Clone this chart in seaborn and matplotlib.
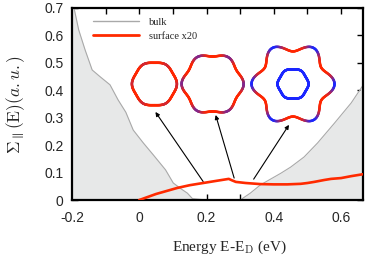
import numpy as np
import pandas as pd
import seaborn as sns
import matplotlib.pyplot as plt
from matplotlib.collections import LineCollection
from matplotlib.lines import Line2D
from matplotlib.ticker import MultipleLocator

# Bulk spectral function (grey, filled)
bulk_E = [-0.2, -0.194, -0.18, -0.161, -0.14, -0.116, -0.087, -0.063, -0.04, -0.018,
          0.012, 0.042, 0.078, 0.101, 0.125, 0.143, 0.158, 0.2, 0.25, 0.3, 0.33, 0.36,
          0.42, 0.45, 0.49, 0.53, 0.58, 0.63, 0.666]
bulk_S = [0.74, 0.70, 0.62, 0.547, 0.474, 0.449, 0.42, 0.365, 0.32, 0.255,
          0.208, 0.164, 0.11, 0.062, 0.04, 0.025, 0.005, 0.0, 0.0, 0.0, 0.025, 0.055,
          0.097, 0.12, 0.157, 0.208, 0.28, 0.354, 0.42]

# Surface spectral function x20 (red)
surf_E = [0.0, 0.05, 0.113, 0.15, 0.19, 0.23, 0.266, 0.275, 0.287, 0.316, 0.36, 0.4,
          0.44, 0.48, 0.5, 0.52, 0.55, 0.57, 0.6, 0.63, 0.665]
surf_S = [0.0, 0.022, 0.044, 0.054, 0.062, 0.07, 0.077, 0.072, 0.066, 0.062, 0.058, 0.057,
          0.057, 0.059, 0.062, 0.066, 0.073, 0.077, 0.08, 0.087, 0.094]

# Constant-energy contours (insets): centre (E, S), warping, spin tint
cont_E = [0.045, 0.218, 0.457]
cont_S = [0.423, 0.423, 0.423]
cont_warp = [0.03, 0.06, 0.12]
cont_tint = [0.2, 0.55, 1.0]
cont_radius_px = [22.5, 31, 41.5]
inner_radius_px = 15.5
inner_warp = 0.035

# Arrows: from curve (tail) to contour (head)
arrow_tail = [(0.19, 0.067), (0.282, 0.08), (0.34, 0.076)]
arrow_head = [(0.048, 0.321), (0.227, 0.31), (0.445, 0.274)]

sns.set_theme(style="ticks")
plt.rcParams["font.family"] = ["Liberation Sans", "DejaVu Sans"]
plt.rcParams["mathtext.fontset"] = "cm"
plt.rcParams["axes.unicode_minus"] = False

fig = plt.figure(figsize=(3.74, 2.64), dpi=100)
ax = fig.add_axes([0.1925, 0.2424, 0.7781, 0.7273])

bulk_col = "#a9a9a9"
red = "#ff2a00"
ax.fill_between(bulk_E, bulk_S, 0, color="#e7e8e8", lw=0, zorder=1)
sns.lineplot(x=bulk_E, y=bulk_S, ax=ax, color=bulk_col, lw=0.8, sort=False, zorder=2)
sns.lineplot(x=surf_E, y=surf_S, ax=ax, color=red, lw=1.9, sort=False, zorder=4)

ax.set_xlim(-0.2, 0.665)
ax.set_ylim(0, 0.7)
ax.xaxis.set_minor_locator(MultipleLocator(0.1))
ax.set_xticks([-0.2, 0, 0.2, 0.4, 0.6])
ax.set_xticklabels(["-0.2", "0", "0.2", "0.4", "0.6"])
ax.set_yticks([0, 0.1, 0.2, 0.3, 0.4, 0.5, 0.6, 0.7])
ax.set_yticklabels(["0", "0.1", "0.2", "0.3", "0.4", "0.5", "0.6", "0.7"])
ax.tick_params(which="both", direction="in", top=True, right=True, length=4,
               width=1, labelsize=10, color="black")
ax.tick_params(axis="x", pad=8)
ax.tick_params(axis="y", pad=6)
for sp in ax.spines.values():
    sp.set_linewidth(1.6)
    sp.set_color("black")

ax.set_xlabel(r"Energy E-E$_\mathrm{D}$ (eV)", family="Liberation Serif", fontsize=11)
ax.xaxis.set_label_coords(0.54, -0.2)
ax.set_ylabel(r"$\Sigma_{\parallel}(\mathrm{E})(a.u.)$", fontsize=12.5)
ax.yaxis.set_label_coords(-0.155, 0.5)

handles = [Line2D([], [], color=bulk_col, lw=1.0), Line2D([], [], color=red, lw=2.0)]
ax.legend(handles, ["bulk", "surface x20"], loc="upper left", bbox_to_anchor=(0.045, 0.995),
          frameon=False, prop={"family": "Liberation Serif", "size": 7.5},
          handlelength=4.4, handletextpad=0.9, labelspacing=0.45, borderpad=0.3)

# arrows
for (tx, ty), (hx, hy) in zip(arrow_tail, arrow_head):
    ax.annotate("", xy=(hx, hy), xytext=(tx, ty),
                arrowprops=dict(arrowstyle="-|>", color="black", lw=0.8,
                                mutation_scale=6, shrinkA=0, shrinkB=0), zorder=3)

# constant-energy contours as inset axes
px_x = 0.7781 * 374 / 0.865
px_y = 0.7273 * 264 / 0.7
theta = np.linspace(0, 2 * np.pi, 361)
c_red = np.array([1.0, 0.15, 0.0])
c_blue = np.array([0.1, 0.15, 1.0])


def draw_contour(inax, warp, tint, blue_only=False):
    r = (1 + warp * np.cos(6 * theta)) / (1 + warp)
    x, y = r * np.cos(theta), r * np.sin(theta)
    pts = np.column_stack([x, y]).reshape(-1, 1, 2)
    segs = np.concatenate([pts[:-1], pts[1:]], axis=1)
    if blue_only:
        cols = np.tile(c_blue, (len(segs), 1))
    else:
        tm = 0.5 * (theta[:-1] + theta[1:])
        t = tint * ((1 + np.cos(6 * tm)) / 2) ** 2.5
        cols = (1 - t)[:, None] * c_red + t[:, None] * c_blue
    inax.add_collection(LineCollection(segs, colors=cols, lw=1.8, capstyle="round"))


for e, s, w, tint, rp in zip(cont_E, cont_S, cont_warp, cont_tint, cont_radius_px):
    half = 1.1
    wd = 2 * half * rp / px_x
    ht = 2 * half * rp / px_y
    inax = ax.inset_axes([e - wd / 2, s - ht / 2, wd, ht], transform=ax.transData, zorder=5)
    inax.set_xlim(-half, half)
    inax.set_ylim(-half, half)
    inax.axis("off")
    inax.patch.set_alpha(0)
    draw_contour(inax, w, tint)
    if rp == cont_radius_px[-1]:
        sc = rp / inner_radius_px
        inax2 = ax.inset_axes([e - wd / (2 * sc), s - ht / (2 * sc), wd / sc, ht / sc],
                              transform=ax.transData, zorder=5)
        inax2.set_xlim(-half, half)
        inax2.set_ylim(-half, half)
        inax2.axis("off")
        inax2.patch.set_alpha(0)
        draw_contour(inax2, inner_warp, 1.0, blue_only=True)

fig.savefig("out.png", dpi=100)
